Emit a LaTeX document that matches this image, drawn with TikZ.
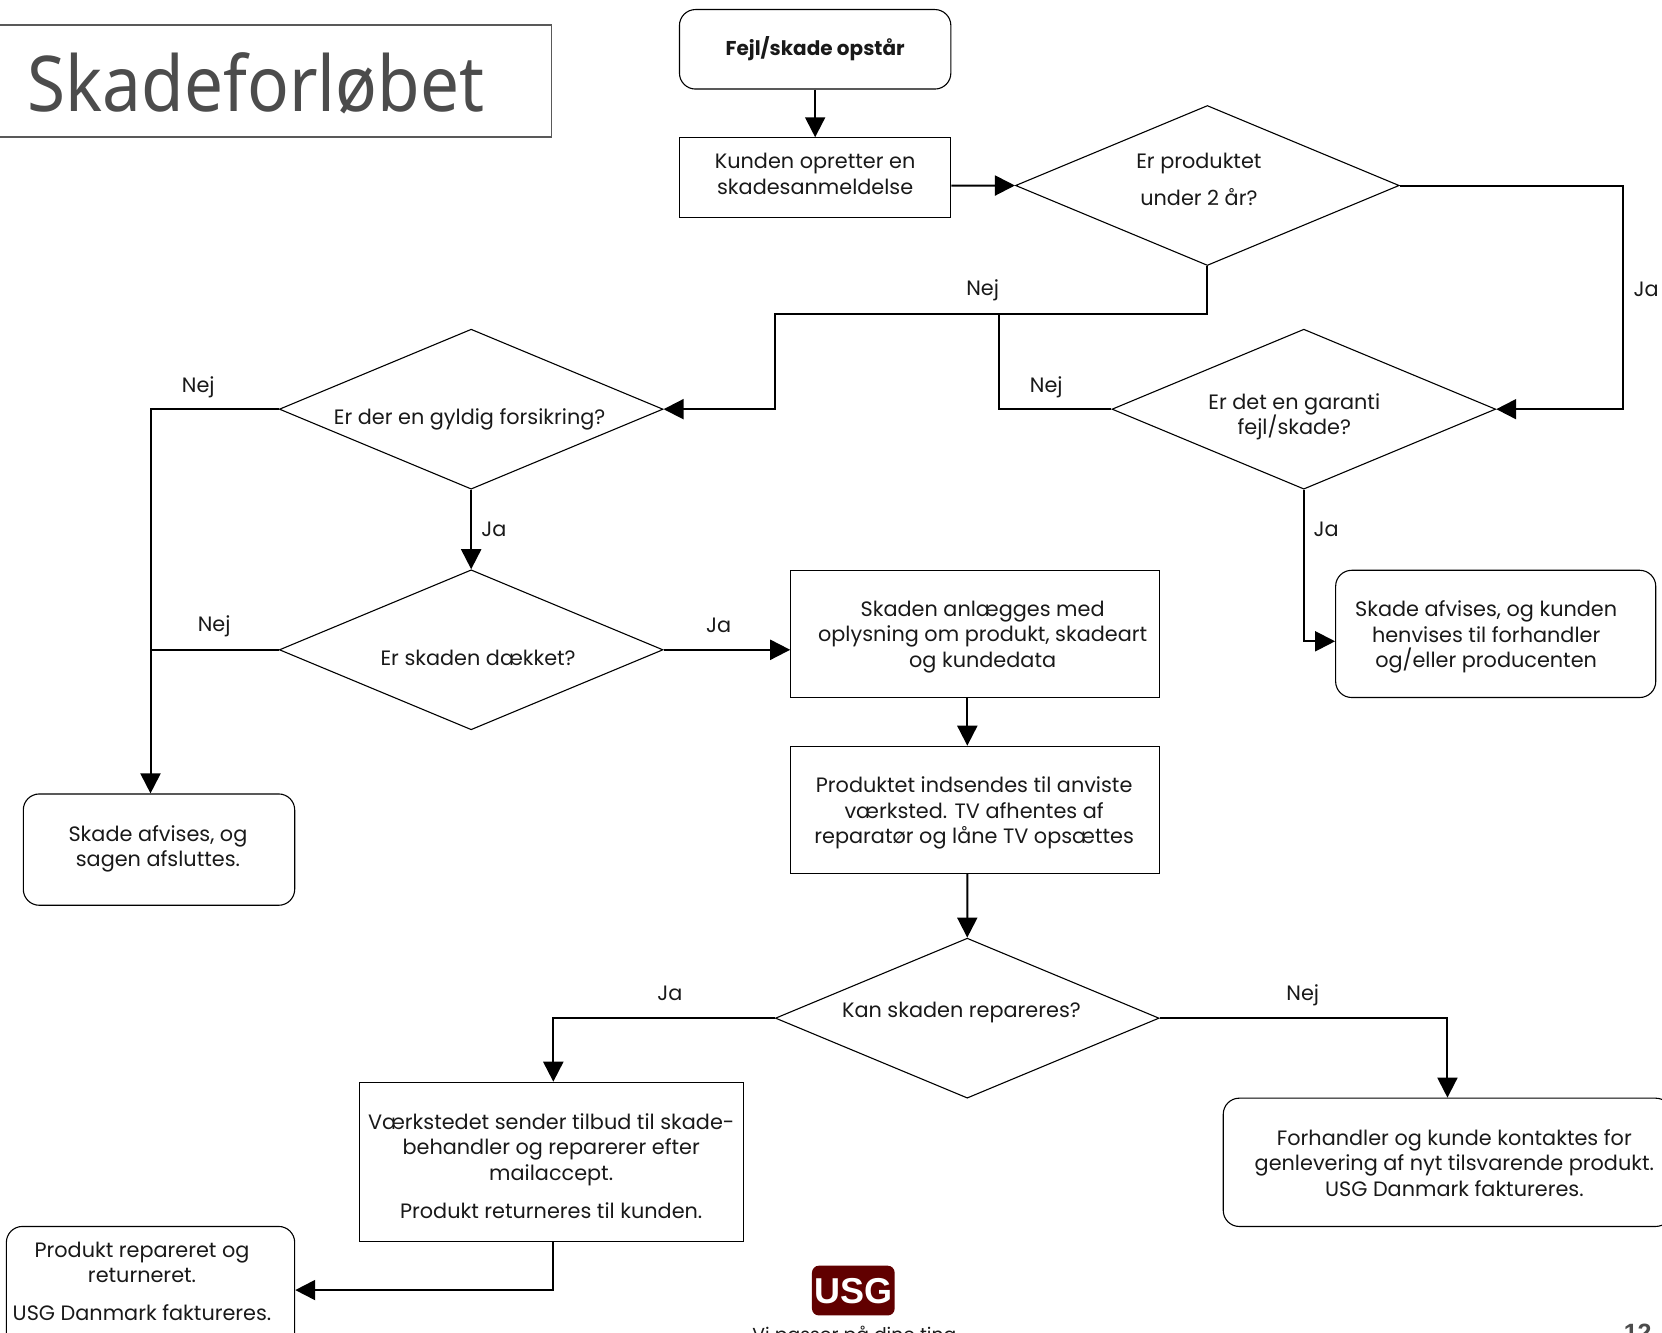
\documentclass[tikz,border=0pt]{standalone}
\usepackage{fontspec}
\setmainfont{Poppins}
\newfontfamily\titlefont[FakeStretch=0.9]{Noto Sans}
\newfontfamily\logofont{Liberation Sans}
\usetikzlibrary{shapes.geometric,arrows.meta}
\tikzset{
  x=1.06pt,y=-1.06pt,
  shapeline/.style={draw=black,line width=1.1pt,inner sep=0pt},
  sqbox/.style={shapeline,rectangle},
  rdbox/.style={shapeline,rectangle,rounded corners=16pt},
  choice/.style={shapeline,diamond,minimum width=383.7pt,minimum height=160pt},
  txt/.style={font=\fontsize{20.8}{25.4}\selectfont,align=center,inner sep=0pt,text=black!90},
  lbl/.style={font=\fontsize{20.8}{25.4}\selectfont,inner sep=0pt,text=black!90},
  conn/.style={draw=black,line width=2pt},
  arr/.style={conn,-{Triangle[length=20pt,width=20pt]}},
}
\begin{document}
\begin{tikzpicture}
\useasboundingbox (0,0) rectangle (1567.9,1257.5);
\clip (0,0) rectangle (1567.9,1257.5);
% title
\node[draw=black!65,line width=1.9pt,minimum width=556pt,minimum height=111.3pt,inner sep=0pt] (titlebox) at (258,76.5) {};
\node[anchor=west,inner sep=0pt,font=\titlefont\fontsize{77}{80}\selectfont,text=black!70] (title) at (26,79) {Skadeforløbet};
% shapes
\node[rdbox,minimum width=271.4pt,minimum height=79.5pt] (start) at (769,46.5) {};
\node[sqbox,minimum width=271.4pt,minimum height=79.5pt] (kunden) at (769,167.5) {};
\node[choice] (d1) at (1139,175) {};
\node[choice] (d2) at (444.5,386) {};
\node[choice] (d3) at (1230,386) {};
\node[choice] (d4) at (444.5,613) {};
\node[choice] (d5) at (912.5,960.5) {};
\node[sqbox,minimum width=368.9pt,minimum height=127.2pt] (anlaeg) at (920,598) {};
\node[rdbox,minimum width=320.1pt,minimum height=127.2pt] (afvR) at (1411,598) {};
\node[sqbox,minimum width=368.9pt,minimum height=127.2pt] (prod) at (920,764) {};
\node[rdbox,minimum width=271.4pt,minimum height=111.3pt] (afvL) at (150,801.5) {};
\node[sqbox,minimum width=383.7pt,minimum height=159pt] (vaerk) at (520,1096) {};
\node[rdbox,minimum width=448.4pt,minimum height=128.3pt] (forh) at (1365.5,1096.5) {};
\node[rdbox,minimum width=288.3pt,minimum height=127.2pt] (prodr) at (142,1217) {};
% texts
\node[txt,font=\bfseries\fontsize{20}{25.4}\selectfont] (t0) at (769,46) {Fejl/skade opstår};
\node[txt] (t1) at (769,164) {Kunden opretter en\\skadesanmeldelse};
\node[txt] (t2) at (1131,169.5) {Er produktet\\[12pt]under 2 år?};
\node[txt] (t3) at (443,396) {Er der en gyldig forsikring?};
\node[txt] (t4) at (1221,393) {Er det en garanti\\fejl/skade?};
\node[txt] (t5) at (451,621) {Er skaden dækket?};
\node[txt] (t6) at (927,601) {Skaden anlægges med\\oplysning om produkt, skadeart\\og kundedata};
\node[txt] (t7) at (1402,601) {Skade afvises, og kunden\\henvises til forhandler\\og/eller producenten};
\node[txt] (t8) at (919,767) {Produktet indsendes til anviste\\værksted. TV afhentes af\\reparatør og låne TV opsættes};
\node[txt] (t9) at (149,801) {Skade afvises, og\\sagen afsluttes.};
\node[txt] (t10) at (907,955) {Kan skaden repareres?};
\node[txt] (t11) at (520,1100) {Værkstedet sender tilbud til skade-\\behandler og reparerer efter\\mailaccept.\\[13pt]Produkt returneres til kunden.};
\node[txt] (t12) at (1372,1097) {Forhandler og kunde kontaktes for\\genlevering af nyt tilsvarende produkt.\\USG Danmark faktureres.};
\node[txt] (t13) at (134,1208.5) {Produkt repareret og\\returneret.\\[12.5pt]USG Danmark faktureres.};
% labels
\node[lbl] (l1) at (927,274) {Nej};
\node[lbl] (l2) at (1553,273) {Ja};
\node[lbl] (l3) at (187,365) {Nej};
\node[lbl] (l4) at (987,365) {Nej};
\node[lbl] (l5) at (466,499) {Ja};
\node[lbl] (l6) at (1251,499) {Ja};
\node[lbl] (l7) at (202,591) {Nej};
\node[lbl] (l8) at (678,590) {Ja};
\node[lbl] (l9) at (632,937) {Ja};
\node[lbl] (l10) at (1229,939) {Nej};
% connector waypoints
\coordinate (rgt) at (1531,175);
\coordinate (bend) at (731,296);
\coordinate (fork) at (942,296);
\coordinate (lft) at ([xshift=-8.5pt]afvL.north);
% connectors
\draw[arr] (start.south) -- (kunden.north);
\draw[arr] ([yshift=-8pt]kunden.east) -- (d1.west);
\draw[arr] (d1.east) -| (rgt) |- (d3.east);
\draw[arr] (d1.south) |- (bend) |- (d2.east);
\draw[conn] (fork) |- (d3.west);
\draw[arr] (d2.west) -| (lft);
\draw[conn] (d4.west) -- (d4.west -| lft);
\draw[arr] (d2.south) -- (d4.north);
\draw[arr] (d4.east) -- (d4.east -| anlaeg.west);
\draw[arr] (d3.south) |- ([yshift=-7.4pt]afvR.west);
\draw[arr] ([xshift=-7.9pt]anlaeg.south) -- ([xshift=-7.9pt]prod.north);
\draw[arr] ([xshift=-7.9pt]prod.south) -- (d5.north);
\draw[arr] (d5.west) -| ([xshift=2.1pt]vaerk.north);
\draw[arr] (d5.east) -| (forh.north);
\draw[arr] ([xshift=2.1pt]vaerk.south) |- (prodr.east);
% logo
\node[fill=red!38!black,rounded corners=7pt,minimum width=82.7pt,minimum height=49.8pt,inner sep=0pt,text=white,font=\logofont\bfseries\fontsize{36}{36}\selectfont,text depth=0pt,text height=26pt] (logo) at (805,1217.5) {USG};
\node[txt,font=\fontsize{18.8}{24}\selectfont] (slogan) at (806,1261) {Vi passer på dine ting};
\node[inner sep=0pt,font=\logofont\bfseries\fontsize{25}{25}\selectfont,text=black!70] (page) at (1545,1257) {12};
\end{tikzpicture}
\end{document}
